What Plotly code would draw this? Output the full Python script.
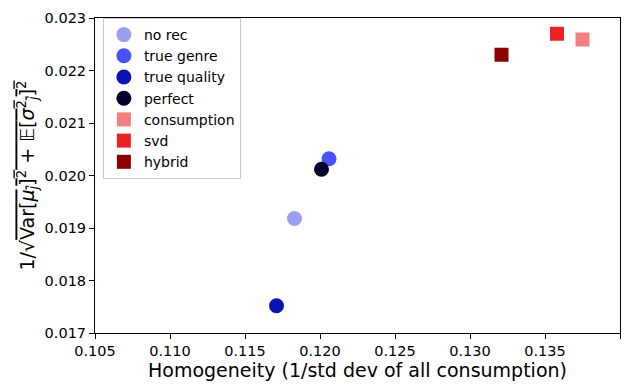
import plotly.graph_objects as go

labels = ["no rec", "true genre", "true quality", "perfect", "consumption", "svd", "hybrid"]
homogeneity = [0.1183, 0.1206, 0.1171, 0.1201, 0.1375, 0.1358, 0.1321]
inv_var = [0.01918, 0.02032, 0.01752, 0.02012, 0.02259, 0.02270, 0.02230]
colors = ["#9a9ff0", "#4a52ff", "#0a14b4", "#00002e", "#f28080", "#ec2222", "#8b0000"]
symbols = ["circle", "circle", "circle", "circle", "square", "square", "square"]

fig = go.Figure()
for lab, x, y, c, s in zip(labels, homogeneity, inv_var, colors, symbols):
    fig.add_trace(go.Scatter(
        x=[x], y=[y], mode="markers", name=lab,
        marker=dict(color=c, symbol=s, size=15 if s == "circle" else 14, line=dict(width=0)),
    ))

axis_common = dict(
    showgrid=False, zeroline=False, showline=True, linecolor="black", linewidth=1,
    mirror=True, ticks="outside", ticklen=5, tickcolor="black",
    tickfont=dict(family="DejaVu Sans", size=14.5, color="black"),
)
fig.update_layout(
    width=640, height=385,
    margin=dict(l=95, r=20, t=10, b=50),
    plot_bgcolor="white", paper_bgcolor="white",
    font=dict(family="DejaVu Sans", color="black"),
    xaxis=dict(range=[0.105, 0.140], dtick=0.005, tickformat=".3f",
               title=dict(text="Homogeneity (1/std dev of all consumption)", font=dict(size=19), standoff=2),
               **axis_common),
    yaxis=dict(range=[0.017, 0.023], dtick=0.001, tickformat=".3f",
               title=dict(text="1/√<span style='text-decoration:overline'>Var[<i>μ<sub>j</sub></i>]<sup>2</sup> + 𝔼[<i>σ</i><sup>2</sup><sub><i>j</i></sub>]<sup>2</sup></span>",
                          font=dict(size=19), standoff=4),
               **axis_common),
    legend=dict(x=0.015, y=1.0, xanchor="left", yanchor="top",
                bgcolor="rgba(255,255,255,0.8)", bordercolor="#cccccc", borderwidth=1,
                font=dict(size=14), tracegroupgap=0, itemsizing="trace"),
    showlegend=True,
)

fig.write_html("out.html")
